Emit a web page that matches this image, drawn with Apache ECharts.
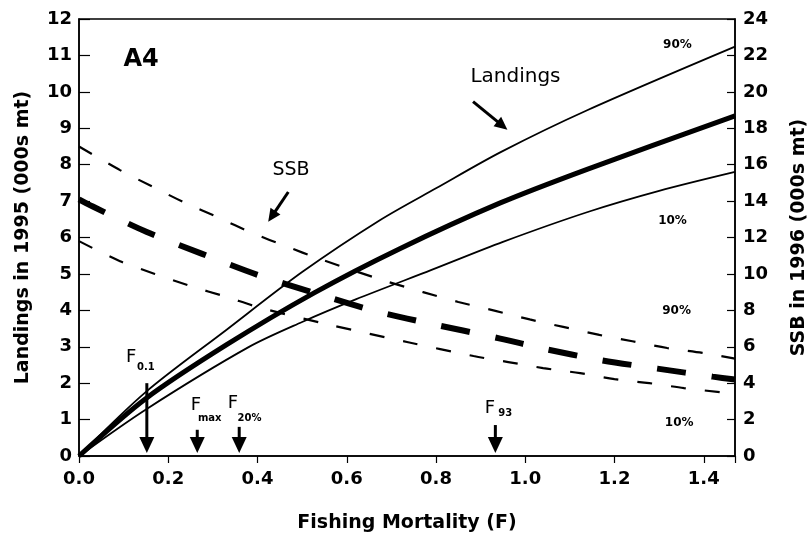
<!DOCTYPE html>
<html>
<head>
<meta charset="utf-8">
<script src="https://cdn.jsdelivr.net/npm/echarts@6/dist/echarts.min.js"></script>
<style>
  html, body { margin: 0; padding: 0; background: #fff; }
  #chart { width: 812px; height: 539px; }
</style>
</head>
<body>
<div id="chart"></div>
<script>
// Landings in 1995 (000s mt) against fishing mortality F: 90%, median, 10%
const fLandUp  = [0, 0.15, 0.33, 0.50, 0.675, 0.80, 0.946, 1.14, 1.47];
const landUp   = [0, 1.76, 3.46, 5.05, 6.48, 7.35, 8.35, 9.50, 11.24];
const fLandMid = [0, 0.15, 0.33, 0.527, 0.72, 0.944, 1.14, 1.47];
const landMid  = [0, 1.58, 3.05, 4.48, 5.70, 6.95, 7.88, 9.34];
const fLandLow = [0, 0.15, 0.38, 0.50, 0.62, 0.79, 0.95, 1.14, 1.30, 1.47];
const landLow  = [0, 1.28, 2.99, 3.68, 4.30, 5.11, 5.88, 6.70, 7.28, 7.80];

// SSB in 1996 (000s mt) against F: 90%, median, 10%
const fSsbUp  = [0, 0.092, 0.164, 0.238, 0.312, 0.388, 0.466, 0.536, 0.679, 0.771, 0.85, 0.933, 1.01, 1.085, 1.166, 1.24, 1.318, 1.397, 1.47];
const ssbUp   = [17.0, 15.7, 14.8, 13.9, 13.1, 12.25, 11.5, 10.85, 9.67, 9.0, 8.46, 7.97, 7.5, 7.09, 6.65, 6.3, 5.93, 5.66, 5.35];
const fSsbMid = [0, 0.031, 0.152, 0.276, 0.40, 0.527, 0.657, 0.782, 0.944, 1.04, 1.168, 1.296, 1.42, 1.47];
const ssbMid  = [14.1, 13.7, 12.3, 11.1, 9.95, 8.96, 8.0, 7.3, 6.45, 5.9, 5.27, 4.8, 4.36, 4.2];
const fSsbLow = [0, 0.092, 0.17, 0.249, 0.33, 0.408, 0.563, 0.735, 0.884, 0.962, 1.04, 1.123, 1.2, 1.278, 1.356, 1.437, 1.47];
const ssbLow  = [11.8, 10.7, 10.0, 9.34, 8.74, 8.13, 7.2, 6.26, 5.49, 5.16, 4.83, 4.55, 4.22, 4.0, 3.73, 3.5, 3.4];

// Axis ranges and steps
const xRange = [0, 1.47], xStep = 0.2;
const yLeftRange = [0, 12], yLeftStep = 1;
const yRightRange = [0, 24], yRightStep = 2;

// Reference points: F value, sub-label, arrow shaft top (landings units)
const refF      = [0.152, 0.265, 0.359, 0.933];
const refSub    = ['0.1', 'max', '20%', '93'];
const refTop    = [2.0, 0.72, 0.80, 0.85];
const refTip    = 0.08;
// Label anchors [F, landings] for the "F" and its subscript
const refFPos   = [[0.117, 2.72], [0.262, 1.40], [0.345, 1.46], [0.921, 1.32]];
const refSubPos = [[0.150, 2.42], [0.293, 1.02], [0.382, 1.04], [0.955, 1.18]];

// Free text annotations, placed in [F, landings] units
const notes = [
  { text: 'A4',       at: [0.139, 10.88], font: 'bold 24px "DejaVu Sans"' },
  { text: 'Landings', at: [0.978, 10.41], font: '20px "DejaVu Sans"' },
  { text: 'SSB',      at: [0.475, 7.86],  font: '19px "DejaVu Sans"' },
  { text: '90%',      at: [1.341, 11.29], font: 'bold 12px "DejaVu Sans"' },
  { text: '10%',      at: [1.330, 6.46],  font: 'bold 12px "DejaVu Sans"' },
  { text: '90%',      at: [1.339, 3.98],  font: 'bold 12px "DejaVu Sans"' },
  { text: '10%',      at: [1.345, 0.91],  font: 'bold 12px "DejaVu Sans"' }
];
// Pointer arrows [from, to] in [F, landings] units
const pointers = [
  [[0.883, 9.73], [0.960, 8.96]],
  [[0.469, 7.25], [0.424, 6.43]]
];

const pairs = (xs, ys) => xs.map((x, i) => [x, ys[i]]);
const tickFont = { fontFamily: 'DejaVu Sans', fontWeight: 'bold', fontSize: 18, color: '#000' };
const nameFont = { fontFamily: 'DejaVu Sans', fontWeight: 'bold', fontSize: 19, color: '#000' };
const axisLine = { show: true, lineStyle: { color: '#000', width: 1.5 } };

const chart = echarts.init(document.getElementById('chart'), null, { renderer: 'canvas' });

function curve(name, xs, ys, axis, width, dash) {
  return {
    name, type: 'line', yAxisIndex: axis, data: pairs(xs, ys),
    smooth: 0.3, symbol: 'none', silent: true, z: 3,
    lineStyle: { color: '#000', width, type: dash || 'solid', cap: 'butt' }
  };
}

chart.setOption({
  animation: false,
  backgroundColor: '#fff',
  grid: {
    left: 79, right: 77, top: 19, bottom: 83, containLabel: false, outerBoundsMode: 'none',
    show: true, borderColor: '#000', borderWidth: 1.5
  },
  xAxis: {
    type: 'value', min: xRange[0], max: xRange[1], interval: xStep,
    name: 'Fishing Mortality (F)', nameLocation: 'middle', nameGap: 58, nameTextStyle: nameFont,
    axisLine, splitLine: { show: false },
    axisTick: { show: true, inside: false, length: 7, lineStyle: { color: '#000', width: 1.2 } },
    axisLabel: Object.assign({ margin: 14, formatter: v => Math.abs(v / xStep - Math.round(v / xStep)) < 1e-6 ? v.toFixed(1) : '' }, tickFont)
  },
  yAxis: [
    {
      type: 'value', min: yLeftRange[0], max: yLeftRange[1], interval: yLeftStep, position: 'left',
      name: 'Landings in 1995 (000s mt)', nameLocation: 'middle', nameGap: 46, nameTextStyle: nameFont,
      axisLine, splitLine: { show: false },
      axisTick: { show: true, inside: true, length: 11, lineStyle: { color: '#000', width: 1.2 } },
      axisLabel: Object.assign({ margin: 7 }, tickFont)
    },
    {
      type: 'value', min: yRightRange[0], max: yRightRange[1], interval: yRightStep, position: 'right',
      name: 'SSB in 1996 (000s mt)', nameLocation: 'middle', nameGap: 55, nameTextStyle: nameFont,
      axisLine, splitLine: { show: false },
      axisTick: { show: true, inside: true, length: 8, lineStyle: { color: '#000', width: 1.2 } },
      axisLabel: Object.assign({ margin: 8 }, tickFont)
    }
  ],
  series: [
    curve('Landings 90%', fLandUp, landUp, 0, 1.8),
    curve('Landings median', fLandMid, landMid, 0, 5),
    curve('Landings 10%', fLandLow, landLow, 0, 1.8),
    curve('SSB 90%', fSsbUp, ssbUp, 1, 2.2, [15, 19]),
    curve('SSB median', fSsbMid, ssbMid, 1, 6, [29, 26]),
    curve('SSB 10%', fSsbLow, ssbLow, 1, 2.2, [15, 19])
  ]
});

// Annotations drawn from data units through the grid's own scales
const px = p => chart.convertToPixel({ xAxisIndex: 0, yAxisIndex: 0 }, p);
const graphics = [];

function text(str, p, font) {
  const [x, y] = px(p);
  graphics.push({
    type: 'text', z: 10, silent: true,
    style: { text: str, x, y, font, fill: '#000', textAlign: 'center', textVerticalAlign: 'middle', align: 'center', verticalAlign: 'middle' }
  });
}

function arrow(a, b, shaftW, headL, headW) {
  const [x1, y1] = px(a), [x2, y2] = px(b);
  const dx = x2 - x1, dy = y2 - y1, len = Math.hypot(dx, dy);
  const ux = dx / len, uy = dy / len, nx = -uy, ny = ux;
  const bx = x2 - ux * headL, by = y2 - uy * headL;
  graphics.push({
    type: 'line', z: 10, silent: true,
    shape: { x1, y1, x2: bx + ux, y2: by + uy },
    style: { stroke: '#000', lineWidth: shaftW }
  });
  graphics.push({
    type: 'polygon', z: 10, silent: true,
    shape: { points: [[x2, y2], [bx + nx * headW / 2, by + ny * headW / 2], [bx - nx * headW / 2, by - ny * headW / 2]] },
    style: { fill: '#000' }
  });
}

notes.forEach(n => text(n.text, n.at, n.font));
pointers.forEach(([a, b]) => arrow(a, b, 3, 13, 12));

refF.forEach((f, i) => {
  arrow([f, refTop[i]], [f, refTip], 3, 16, 15);
  text('F', refFPos[i], '18px "DejaVu Sans"');
  text(refSub[i], refSubPos[i], 'bold 10px "DejaVu Sans"');
});

chart.setOption({ graphic: graphics });
</script>
</body>
</html>
